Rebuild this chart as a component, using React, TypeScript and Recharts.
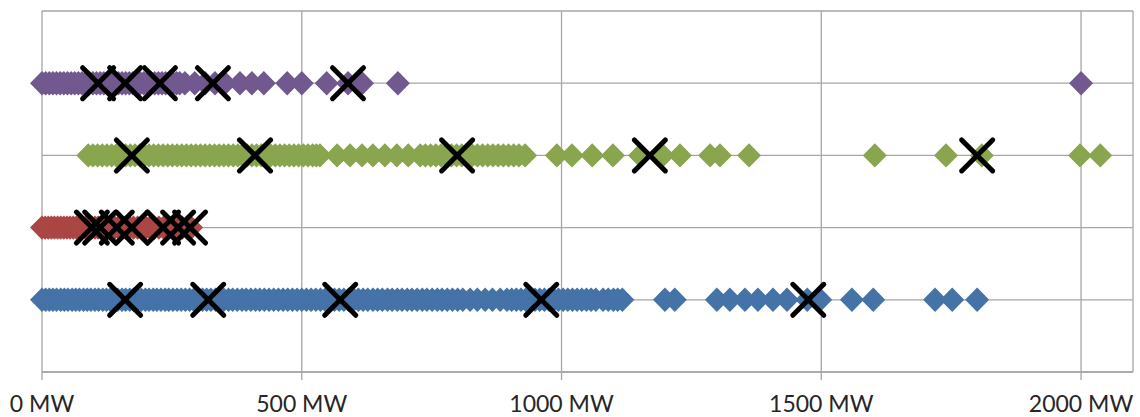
import { ScatterChart, Scatter, XAxis, YAxis, CartesianGrid } from 'recharts';

// rows on the vertical axis (1 = bottom)
const ROW_BLUE = 1;
const ROW_RED = 2;
const ROW_GREEN = 3;
const ROW_PURPLE = 4;

const X_TICKS = [0, 500, 1000, 1500, 2000];
const Y_TICKS = [0, 1, 2, 3, 4, 5];

const blueMW = [
  0, 7, 14, 21, 28, 36, 43, 50, 58, 65, 72, 80, 87, 94, 102, 109, 117, 124, 131, 139, 146, 154, 161, 169, 176, 184,
  191, 199, 206, 214, 221, 229, 237, 244, 252, 260, 268, 276, 284, 292, 300, 309, 317, 325, 334, 342, 350, 359, 367,
  376, 385, 393, 402, 411, 419, 428, 437, 446, 455, 464, 473, 482, 491, 500, 509, 518, 527, 536, 545, 554, 563, 572,
  581, 590, 600, 609, 618, 627, 637, 646, 655, 665, 674, 684, 693, 703, 712, 722, 732, 741, 751, 761, 770, 780, 790,
  800, 810, 824, 838, 853, 867, 882, 895, 904, 913, 922, 931, 940, 949, 958, 967, 976, 985, 994, 1003, 1012, 1021,
  1030, 1039, 1048, 1057, 1066, 1080, 1090, 1100, 1108, 1117, 1199, 1218, 1299, 1324, 1353, 1378, 1407, 1434, 1473,
  1498, 1559, 1600, 1719, 1752, 1800,
];
const blueMarks = [160, 320, 574, 961, 1475];

const redMW = [
  0, 6, 12, 18, 24, 30, 36, 42, 48, 54, 60, 66, 72, 78, 84, 90, 96, 102, 108, 114, 120, 126, 133, 140, 147, 154, 161,
  168, 176, 184, 192, 200, 208, 216, 225, 234, 243, 252, 261, 270, 279, 287,
];
const redMarks = [96, 112, 144, 173, 233, 262, 285];

const greenMW = [
  89, 98, 107, 116, 125, 134, 143, 152, 161, 170, 179, 188, 197, 206, 215, 224, 233, 242, 251, 260, 269, 278, 287,
  296, 305, 314, 323, 332, 341, 350, 359, 368, 377, 386, 395, 404, 413, 422, 431, 440, 449, 458, 467, 476, 485, 494,
  503, 512, 521, 528, 535, 568, 593, 616, 637, 660, 683, 705, 728, 738, 748, 758, 768, 778, 788, 798, 808, 818, 828,
  838, 848, 858, 868, 878, 888, 898, 908, 918, 930, 991, 1020, 1059, 1099, 1151, 1195, 1228, 1286, 1305, 1361, 1603,
  1740, 1809, 1998, 2037,
];
const greenMarks = [173, 410, 799, 1170, 1800];

const purpleMW = [
  0, 7, 14, 21, 28, 35, 42, 49, 56, 63, 70, 77, 84, 91, 98, 105, 112, 119, 126, 133, 140, 147, 154, 161, 168, 175,
  182, 189, 196, 203, 210, 217, 224, 231, 238, 245, 252, 259, 265, 275, 294, 314, 333, 352, 381, 404, 427, 472, 500,
  548, 589, 616, 685, 2000,
];
const purpleMarks = [108, 160, 227, 329, 589];

const toPoints = (xs: number[], row: number) => xs.map((x) => ({ x, y: row }));

const GRID = '#A6A6A6';

const Diamond = (props: any) => {
  const { cx, cy, fill } = props;
  if (cx == null || cy == null) return null;
  return <polygon points={`${cx},${cy - 12.2} ${cx + 12},${cy} ${cx},${cy + 12.2} ${cx - 12},${cy}`} fill={fill} />;
};

const Cross = (props: any) => {
  const { cx, cy } = props;
  if (cx == null || cy == null) return null;
  const r = 15.5;
  return (
    <g stroke="#000" strokeWidth={5} strokeLinecap="round">
      <line x1={cx - r} y1={cy - r} x2={cx + r} y2={cy + r} />
      <line x1={cx - r} y1={cy + r} x2={cx + r} y2={cy - r} />
    </g>
  );
};

export default function App() {
  return (
    <div style={{ width: 1140, height: 417, background: '#fff' }}>
      <style>{`body { margin: 0; }`}</style>
      <ScatterChart width={1140} height={417} margin={{ top: 11, right: 7, bottom: 0, left: 42 }}>
        <CartesianGrid stroke={GRID} strokeWidth={1.3} />
        <XAxis
          type="number"
          dataKey="x"
          domain={[0, 2100]}
          ticks={X_TICKS}
          tickFormatter={(v) => `${v} MW`}
          stroke={GRID}
          strokeWidth={1.3}
          tickSize={8}
          tickMargin={16}
          height={45}
          tick={{ fill: '#262626', fontSize: 23, fontFamily: 'Lato' }}
        />
        <YAxis type="number" dataKey="y" domain={[0, 5]} ticks={Y_TICKS} hide />
        <Scatter data={toPoints(purpleMW, ROW_PURPLE)} fill="#71588F" shape={Diamond} isAnimationActive={false} />
        <Scatter data={toPoints(greenMW, ROW_GREEN)} fill="#89A54E" shape={Diamond} isAnimationActive={false} />
        <Scatter data={toPoints(redMW, ROW_RED)} fill="#AA4643" shape={Diamond} isAnimationActive={false} />
        <Scatter data={toPoints(blueMW, ROW_BLUE)} fill="#4572A7" shape={Diamond} isAnimationActive={false} />
        <Scatter data={toPoints(purpleMarks, ROW_PURPLE)} shape={Cross} isAnimationActive={false} />
        <Scatter data={toPoints(greenMarks, ROW_GREEN)} shape={Cross} isAnimationActive={false} />
        <Scatter data={toPoints(redMarks, ROW_RED)} shape={Cross} isAnimationActive={false} />
        <Scatter data={toPoints(blueMarks, ROW_BLUE)} shape={Cross} isAnimationActive={false} />
      </ScatterChart>
    </div>
  );
}
